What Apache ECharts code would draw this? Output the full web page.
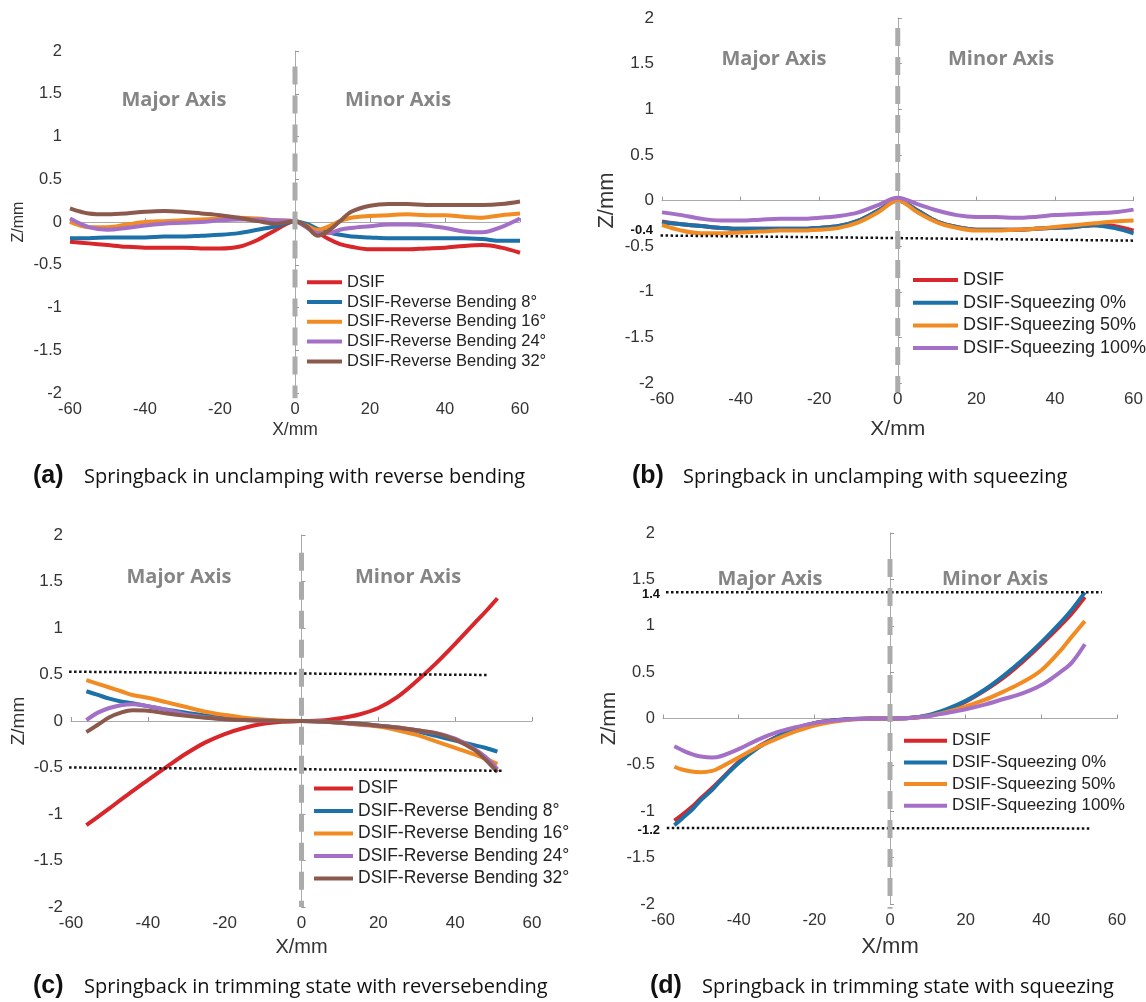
<!DOCTYPE html>
<html>
<head>
<meta charset="utf-8">
<script src="https://cdn.jsdelivr.net/npm/echarts@6/dist/echarts.min.js"></script>
<style>
  html, body { margin: 0; padding: 0; background: #fff; }
  #chart { width: 1146px; height: 1002px; }
</style>
</head>
<body>
<div id="chart"></div>
<script>
// series colours (MATLAB-ish)
const COLORS = ['#d8262b', '#1c72a8', '#f28b22', '#a46fc6', '#8b5a4d'];

const NAMES_BEND = ['DSIF', 'DSIF-Reverse Bending 8°', 'DSIF-Reverse Bending 16°', 'DSIF-Reverse Bending 24°', 'DSIF-Reverse Bending 32°'];
const NAMES_SQZ = ['DSIF', 'DSIF-Squeezing 0%', 'DSIF-Squeezing 50%', 'DSIF-Squeezing 100%'];

// (a) unclamping, reverse bending
const A_X = [-60, -55, -50, -45, -40, -35, -30, -25, -20, -15, -10, -5, 0, 3, 6, 9, 12, 15, 20, 25, 30, 35, 40, 45, 50, 55, 60];
const A_DSIF = [-0.23, -0.25, -0.27, -0.29, -0.30, -0.30, -0.30, -0.31, -0.31, -0.29, -0.21, -0.09, 0.01, -0.05, -0.12, -0.20, -0.26, -0.29, -0.32, -0.32, -0.32, -0.31, -0.30, -0.28, -0.27, -0.30, -0.36];
const A_RB8 = [-0.19, -0.19, -0.18, -0.18, -0.18, -0.17, -0.17, -0.16, -0.15, -0.13, -0.09, -0.05, 0.01, -0.02, -0.08, -0.12, -0.15, -0.17, -0.18, -0.19, -0.19, -0.19, -0.19, -0.19, -0.20, -0.22, -0.22];
const A_RB16 = [0.0, -0.06, -0.06, -0.03, 0.0, 0.01, 0.02, 0.03, 0.04, 0.05, 0.04, 0.02, 0.01, -0.04, -0.09, -0.05, 0.01, 0.05, 0.07, 0.08, 0.09, 0.08, 0.08, 0.06, 0.05, 0.08, 0.10];
const A_RB24 = [0.04, -0.06, -0.09, -0.07, -0.04, -0.02, -0.01, 0.0, 0.02, 0.03, 0.03, 0.02, 0.01, -0.06, -0.13, -0.13, -0.09, -0.07, -0.05, -0.03, -0.03, -0.04, -0.07, -0.11, -0.12, -0.06, 0.04];
const A_RB32 = [0.16, 0.10, 0.09, 0.10, 0.12, 0.13, 0.12, 0.10, 0.08, 0.05, 0.01, -0.02, 0.01, -0.05, -0.16, -0.10, 0.01, 0.12, 0.19, 0.21, 0.21, 0.20, 0.20, 0.20, 0.20, 0.21, 0.24];

// (b) unclamping, squeezing
const B_X = [-60, -55, -50, -45, -40, -35, -30, -25, -20, -15, -10, -5, 0, 5, 10, 15, 20, 25, 30, 35, 40, 45, 50, 55, 60];
const B_DSIF = [-0.23, -0.26, -0.28, -0.30, -0.31, -0.31, -0.31, -0.31, -0.30, -0.28, -0.22, -0.11, 0.0, -0.11, -0.23, -0.29, -0.32, -0.32, -0.32, -0.31, -0.30, -0.29, -0.27, -0.28, -0.33];
const B_SQ0 = [-0.24, -0.26, -0.28, -0.30, -0.31, -0.31, -0.31, -0.31, -0.30, -0.28, -0.22, -0.11, 0.0, -0.11, -0.23, -0.29, -0.32, -0.32, -0.32, -0.31, -0.30, -0.29, -0.27, -0.30, -0.36];
const B_SQ50 = [-0.27, -0.33, -0.36, -0.36, -0.35, -0.34, -0.33, -0.33, -0.32, -0.30, -0.24, -0.13, 0.0, -0.13, -0.24, -0.30, -0.33, -0.33, -0.32, -0.31, -0.29, -0.27, -0.25, -0.23, -0.22];
const B_SQ100 = [-0.13, -0.16, -0.20, -0.22, -0.22, -0.21, -0.20, -0.20, -0.19, -0.17, -0.13, -0.05, 0.03, -0.04, -0.11, -0.16, -0.18, -0.18, -0.19, -0.18, -0.16, -0.15, -0.14, -0.13, -0.10];

// (c) trimming, reverse bending
const C_X = [-56, -53, -50, -47, -44, -40, -35, -30, -25, -20, -15, -10, -5, 0, 5, 10, 15, 20, 25, 30, 35, 40, 45, 48, 51];
const C_DSIF = [-1.12, -1.03, -0.94, -0.845, -0.755, -0.635, -0.49, -0.35, -0.23, -0.14, -0.075, -0.03, -0.008, 0, 0.005, 0.03, 0.07, 0.14, 0.26, 0.43, 0.62, 0.83, 1.05, 1.18, 1.32];
const C_RB8 = [0.32, 0.28, 0.24, 0.21, 0.19, 0.16, 0.12, 0.09, 0.06, 0.04, 0.02, 0.01, 0.0, 0, -0.005, -0.015, -0.03, -0.05, -0.08, -0.11, -0.16, -0.21, -0.26, -0.29, -0.33];
const C_RB16 = [0.44, 0.40, 0.36, 0.32, 0.28, 0.25, 0.20, 0.15, 0.10, 0.065, 0.035, 0.015, 0.005, 0, -0.005, -0.02, -0.04, -0.06, -0.10, -0.15, -0.22, -0.29, -0.36, -0.41, -0.46];
const C_RB24 = [0.01, 0.09, 0.14, 0.17, 0.18, 0.16, 0.12, 0.07, 0.04, 0.02, 0.01, 0.005, 0, 0, -0.005, -0.02, -0.035, -0.05, -0.07, -0.10, -0.13, -0.19, -0.30, -0.39, -0.52];
const C_RB32 = [-0.12, -0.04, 0.04, 0.09, 0.115, 0.11, 0.08, 0.055, 0.035, 0.02, 0.01, 0.005, 0, 0, -0.005, -0.015, -0.03, -0.05, -0.07, -0.10, -0.13, -0.20, -0.31, -0.42, -0.55];

// (d) trimming, squeezing
const D_X = [-57, -55, -52, -50, -47, -45, -40, -35, -30, -25, -20, -15, -10, -5, 0, 5, 10, 15, 20, 25, 30, 35, 40, 45, 48, 51.5];
const D_DSIF = [-1.10, -1.04, -0.94, -0.86, -0.75, -0.67, -0.47, -0.31, -0.20, -0.11, -0.05, -0.02, -0.005, 0, 0, 0.005, 0.03, 0.09, 0.18, 0.30, 0.44, 0.61, 0.80, 1.00, 1.13, 1.31];
const D_SQ0 = [-1.15, -1.08, -0.97, -0.88, -0.77, -0.68, -0.48, -0.32, -0.20, -0.11, -0.05, -0.02, -0.005, 0, 0, 0.005, 0.035, 0.10, 0.19, 0.31, 0.46, 0.63, 0.82, 1.03, 1.17, 1.36];
const D_SQ50 = [-0.52, -0.55, -0.575, -0.58, -0.565, -0.53, -0.42, -0.31, -0.22, -0.14, -0.075, -0.035, -0.012, -0.003, 0, 0.005, 0.025, 0.07, 0.13, 0.20, 0.29, 0.39, 0.52, 0.73, 0.88, 1.05];
const D_SQ100 = [-0.30, -0.34, -0.39, -0.41, -0.42, -0.41, -0.33, -0.23, -0.15, -0.095, -0.05, -0.025, -0.008, -0.002, 0, 0.005, 0.025, 0.06, 0.10, 0.15, 0.21, 0.27, 0.36, 0.50, 0.60, 0.80];

// centre divider (x = 0) and dotted reference lines, [x, z]
const A_CENTER = [[0, 1.82], [0, -2.06]];
const B_CENTER = [[0, 1.89], [0, -2.1]];
const C_CENTER = [[0, 1.81], [0, -2.0]];
const D_CENTER = [[0, 1.72], [0, -2.05]];
const B_REF = [[-68, -0.38], [60, -0.44]];
const C_REF_UP = [[-60.5, 0.53], [48.3, 0.495]];
const C_REF_LOW = [[-60.5, -0.50], [52.3, -0.535]];
const D_REF_UP = [[-59.2, 1.36], [56, 1.36]];
const D_REF_LOW = [[-59, -1.18], [53, -1.185]];

const FONT = 'Liberation Sans, Arial, sans-serif';

const panels = [
  { grid: { left: 70, top: 51, width: 450, height: 342 }, tick: 16.5, yName: 16, yGap: 43, xName: 17.5, xGap: 28,
    legend: { left: 307, top: 273.7, w: 35, gap: 2.8, font: 16.5 }, names: NAMES_BEND,
    xs: A_X, ys: [A_DSIF, A_RB8, A_RB16, A_RB24, A_RB32], center: A_CENTER, refs: [] },
  { grid: { left: 662, top: 18, width: 473, height: 365 }, tick: 17, yName: 22, yGap: 44, xName: 21, xGap: 36,
    legend: { left: 913, top: 271, w: 45, gap: 4.7, font: 18 }, names: NAMES_SQZ,
    xs: B_X, ys: [B_DSIF, B_SQ0, B_SQ50, B_SQ100], center: B_CENTER, refs: [B_REF] },
  { grid: { left: 71, top: 535, width: 461, height: 372 }, tick: 17, yName: 19, yGap: 43, xName: 20, xGap: 30,
    legend: { left: 314, top: 779.5, w: 39, gap: 4.5, font: 17.5 }, names: NAMES_BEND,
    xs: C_X, ys: [C_DSIF, C_RB8, C_RB16, C_RB24, C_RB32], center: C_CENTER, refs: [C_REF_UP, C_REF_LOW] },
  { grid: { left: 663, top: 533, width: 454, height: 371 }, tick: 16.5, yName: 21, yGap: 43, xName: 22, xGap: 32,
    legend: { left: 904, top: 732.2, w: 43, gap: 4.7, font: 17 }, names: NAMES_SQZ,
    xs: D_X, ys: [D_DSIF, D_SQ0, D_SQ50, D_SQ100], center: D_CENTER, refs: [D_REF_UP, D_REF_LOW] }
];

const grids = [], xAxes = [], yAxes = [], legends = [], series = [];

panels.forEach((p, g) => {
  grids.push(p.grid);
  xAxes.push({
    type: 'value', gridIndex: g, min: -60, max: 60, interval: 20,
    name: 'X/mm', nameLocation: 'middle', nameGap: p.xGap,
    nameTextStyle: { fontFamily: FONT, fontSize: p.xName, color: '#333' },
    axisLine: { show: true, lineStyle: { color: '#aaa', width: 1 } },
    axisTick: { show: true, inside: true, length: 4, lineStyle: { color: '#999' } },
    axisLabel: { fontFamily: FONT, fontSize: p.tick, color: '#333', margin: 8 },
    splitLine: { show: false }
  });
  yAxes.push({
    type: 'value', gridIndex: g, min: -2, max: 2, interval: 0.5,
    name: 'Z/mm', nameLocation: 'middle', nameGap: p.yGap, nameRotate: 90,
    nameTextStyle: { fontFamily: FONT, fontSize: p.yName, color: '#333' },
    axisLine: { show: true, lineStyle: { color: '#aaa', width: 1 } },
    axisTick: { show: true, inside: true, length: 4, lineStyle: { color: '#999' } },
    axisLabel: { fontFamily: FONT, fontSize: p.tick, color: '#333', margin: 8 },
    splitLine: { show: false }
  });
  legends.push({
    data: p.names, orient: 'vertical', left: p.legend.left, top: p.legend.top,
    icon: 'rect', itemWidth: p.legend.w, itemHeight: 4, itemGap: p.legend.gap,
    padding: 0, selectedMode: false,
    textStyle: { fontFamily: FONT, fontSize: p.legend.font, color: '#222', lineHeight: p.legend.font }
  });
  p.names.forEach((name, i) => {
    series.push({
      type: 'line', name: name, xAxisIndex: g, yAxisIndex: g,
      data: p.xs.map((x, k) => [x, p.ys[i][k]]),
      smooth: 0.35, symbol: 'none', silent: true,
      lineStyle: { width: 4, color: COLORS[i] }, itemStyle: { color: COLORS[i] }
    });
  });
  p.refs.forEach(ref => {
    series.push({
      type: 'line', xAxisIndex: g, yAxisIndex: g, data: ref, clip: false,
      symbol: 'none', silent: true, z: 4,
      lineStyle: { width: 2.5, type: [2.5, 2.5], color: '#111' }
    });
  });
  series.push({
    type: 'line', xAxisIndex: g, yAxisIndex: g, data: p.center, clip: false,
    symbol: 'none', silent: true, z: 5,
    lineStyle: { width: 5, type: [18, 11], color: '#ababab' }
  });
});

// panel labels and captions
const textEl = (x, y, text, font, align, color) => ({
  type: 'text', x: x, y: y,
  style: { text: text, font: font, fill: color || '#111', align: align || 'left', verticalAlign: 'middle' }
});
const AX_FONT = 'bold 20px "Open Sans", sans-serif';
const CAP_FONT = '20px "Open Sans", sans-serif';
const LET_FONT = 'bold 25px "Liberation Sans", Arial, sans-serif';
const REF_FONT = 'bold 13px "Liberation Sans", Arial, sans-serif';

const graphics = [
  textEl(174, 100, 'Major Axis', AX_FONT, 'center', '#858585'),
  textEl(398, 100, 'Minor Axis', AX_FONT, 'center', '#858585'),
  textEl(774, 59, 'Major Axis', AX_FONT, 'center', '#858585'),
  textEl(1001, 59, 'Minor Axis', AX_FONT, 'center', '#858585'),
  textEl(179, 577, 'Major Axis', AX_FONT, 'center', '#858585'),
  textEl(408, 577, 'Minor Axis', AX_FONT, 'center', '#858585'),
  textEl(770, 579, 'Major Axis', AX_FONT, 'center', '#858585'),
  textEl(995, 579, 'Minor Axis', AX_FONT, 'center', '#858585'),
  textEl(653, 230, '-0.4', REF_FONT, 'right'),
  textEl(660, 594, '1.4', REF_FONT, 'right'),
  textEl(660, 830, '-1.2', REF_FONT, 'right'),
  textEl(33, 476, '(a)', LET_FONT),
  textEl(84, 477, 'Springback in unclamping with reverse bending', CAP_FONT),
  textEl(632, 476, '(b)', LET_FONT),
  textEl(683, 477, 'Springback in unclamping with squeezing', CAP_FONT),
  textEl(33, 986, '(c)', LET_FONT),
  textEl(84, 987, 'Springback in trimming state with reversebending', CAP_FONT),
  textEl(650, 986, '(d)', LET_FONT),
  textEl(702, 987, 'Springback in trimming state with squeezing', CAP_FONT)
];

const chart = echarts.init(document.getElementById('chart'), null, { renderer: 'canvas' });
chart.setOption({
  animation: false,
  backgroundColor: '#fff',
  grid: grids,
  xAxis: xAxes,
  yAxis: yAxes,
  legend: legends,
  series: series,
  graphic: graphics
});
</script>
</body>
</html>
